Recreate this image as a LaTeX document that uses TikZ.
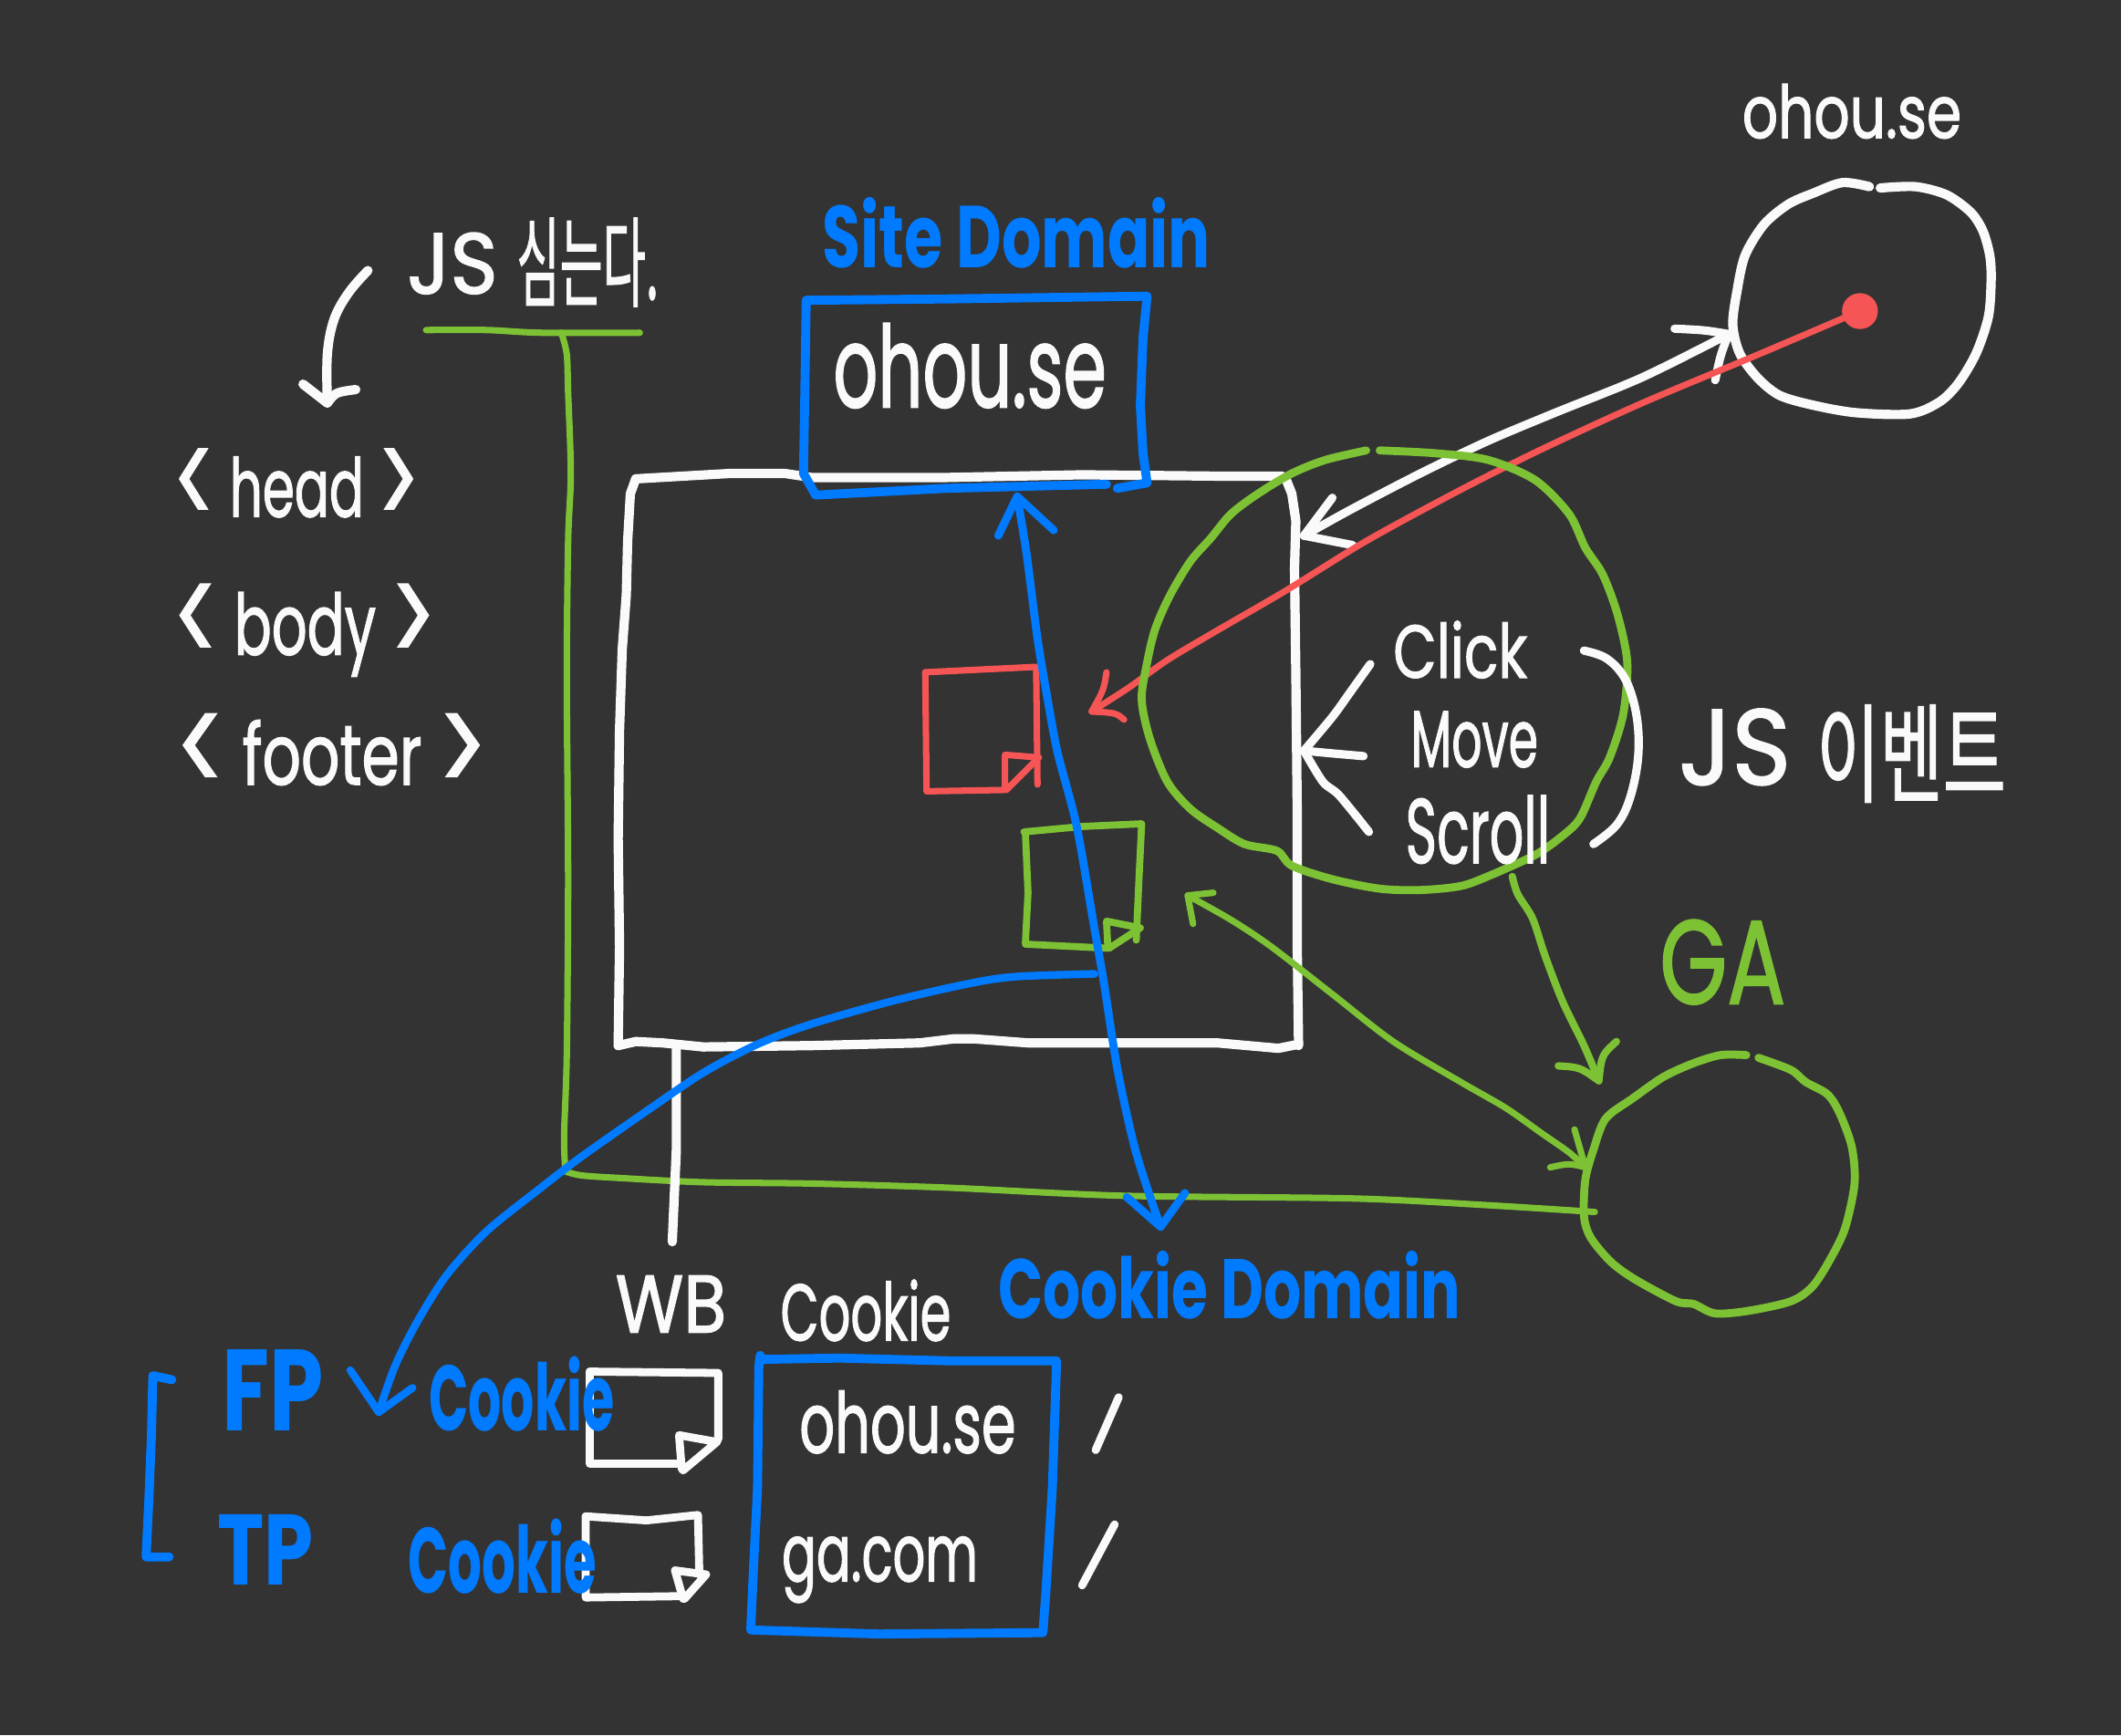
\documentclass[tikz,border=0pt]{standalone}
\usepackage{fontspec}
\usepackage{graphicx}
\newfontfamily\hand{Poppins}[FakeBold=1.6]
\newfontfamily\handb{Poppins}
\newfontfamily\kor{Noto Sans CJK KR}[FakeBold=1.2]
\newlength\pxu
\setlength\pxu{0.14828mm}
\newcommand\sktxt[3]{\resizebox{#1\pxu}{#2\pxu}{#3}}
\newcommand\skl{\raisebox{-0.12em}{\scalebox{1.5}[1.6]{<}}}
\newcommand\skr{\raisebox{-0.12em}{\scalebox{1.5}[1.6]{>}}}
\definecolor{bgc}{RGB}{51,51,51}
\definecolor{penwhite}{RGB}{250,250,250}
\definecolor{penblue}{RGB}{0,122,255}
\definecolor{pengreen}{RGB}{125,194,52}
\definecolor{penred}{RGB}{245,85,85}
\tikzset{
 pen/.style={line cap=round, line join=round},
 wpen/.style={pen, draw=penwhite, line width=2.9pt},
 bpen/.style={pen, draw=penblue, line width=2.8pt},
 gpen/.style={pen, draw=pengreen, line width=2.5pt},
 gthin/.style={pen, draw=pengreen, line width=2pt},
 rpen/.style={pen, draw=penred, line width=2pt},
 lbl/.style={anchor=base west, inner sep=0pt, outer sep=0pt},
 wtxt/.style={lbl, text=penwhite},
 btxt/.style={lbl, text=penblue},
 gtxt/.style={lbl, text=pengreen},
}
\begin{document}
\begin{tikzpicture}[x=0.14828mm, y=-0.14828mm]
\fill[bgc] (0,0) rectangle (1568,1283);
\useasboundingbox (0,0) rectangle (1568,1283);

% ---------- left: JS and html tags ----------
\node[wtxt] (jsA) at (301,217) {\sktxt{67}{45}{\hand JS}};
\node[wtxt] (jsB) at (382,221) {\sktxt{105}{60}{\kor 심는다.}};
\node[wtxt] (head) at (128,382) {\sktxt{182}{50}{\hand\skl\ head \skr}};
\node[wtxt] (body) at (128,484) {\sktxt{194}{52}{\hand\skl\ body \skr}};
\node[wtxt] (footer) at (130,580) {\sktxt{230}{52}{\hand\skl\ footer \skr}};

\coordinate (jsArrS) at (272,200);
\coordinate (jsArrT) at (242,298);
\draw[wpen] plot[smooth, tension=0.6] coordinates {(jsArrS) (258,216) (247,236) (242,262) (jsArrT)};
\draw[wpen] (224,284) -- (jsArrT) .. controls (248,290) .. (263,288);

% green script line
\coordinate (gTop) at (415,246);
\coordinate (gCorner) at (418,866);
\coordinate (gaLeft) at (1179,896);
\draw[gthin] plot[smooth, tension=0.5] coordinates {(315,244) (360,244) (400,246) (473,246)};
\draw[gthin] plot[smooth, tension=0.5] coordinates {(gTop) (419,262) (420,290) (422,350) (420,400) (419,500) (420,650) (419,780) (417,840) (gCorner)};
\draw[gthin] plot[smooth, tension=0.5] coordinates {(gCorner) (430,869) (460,871) (520,874) (600,875) (700,878) (830,884) (1000,886) (1100,891) (gaLeft)};

% ---------- page box ----------
\draw[wpen] (470,354) -- (540,350) -- (580,350) -- (600,353) -- (700,353) -- (800,351) -- (900,352) -- (948,352);
\draw[wpen] (951,355) -- (955,365) -- (958,385) -- (957,420) -- (958,500) -- (959,600) -- (959,700) -- (960,773);
\draw[wpen] (457,773) -- (470,770) -- (490,771) -- (520,774) -- (600,773) -- (680,771) -- (705,768) -- (720,768) -- (760,771) -- (800,771) -- (900,771) -- (945,775) -- (960,772);
\draw[wpen] (470,354) -- (466,365) -- (464,400) -- (463,440) -- (460,480) -- (458,540) -- (457,620) -- (458,700) -- (457,773);
\coordinate (wbTop) at (500,774);
\coordinate (wbBot) at (497,918);
\draw[wpen] (wbTop) -- (500,850) -- (wbBot);

% ---------- site domain ----------
\node[btxt] (siteLbl) at (608,198) {\sktxt{287}{52}{\handb\bfseries Site Domain}};
\draw[bpen] (818,358) -- (700,361) -- (603,366) -- (594,350) -- (595,290) -- (596,222) -- (700,221) -- (848,219) -- (845,250) -- (843,300) -- (845,335) -- (848,357) -- (826,361);
\node[wtxt] (siteTxt) at (616,301) {\sktxt{202}{62}{\hand ohou.se}};

% doc icons
\draw[rpen] (684,497) -- (766,493) -- (767,580);
\draw[rpen] (684,497) -- (685,585) -- (743,584) -- (743,558) -- (768,560) -- (744,584);
\draw[gthin, line width=2.2pt] (757,615) -- (800,611) -- (844,609) -- (842,650) -- (840,695);
\draw[gthin, line width=2.2pt] (758,615) -- (760,660) -- (758,698) -- (819,701) -- (818,681) -- (843,686) -- (820,701);

% blue double arrow site <-> cookie domain
\coordinate (sdBot) at (752,367);
\coordinate (cdTop) at (858,907);
\draw[bpen, line width=2.5pt] plot[smooth, tension=0.5] coordinates {(sdBot) (759,410) (767,472) (775,520) (782,557) (796,611) (809,686) (816,726) (826,790) (838,845) (848,878) (cdTop)};
\draw[bpen, line width=2.5pt] (738,396) -- (sdBot) -- (779,392);
\draw[bpen, line width=2.5pt] (833,885) -- (cdTop) -- (876,882);

% ---------- ohou.se circle ----------
\node[wtxt] (ohTop) at (1288,102) {\sktxt{162}{40}{\hand ohou.se}};
\draw[wpen] plot[smooth, tension=0.5] coordinates {(1390,139) (1416,138) (1439,144) (1457,157) (1466,171) (1471,189) (1472,207) (1470,234) (1461,261) (1448,283) (1434,297) (1412,306) (1371,305) (1338,299) (1315,292) (1299,279) (1286,261) (1281,240) (1284,216) (1290,189) (1304,166) (1322,151) (1340,143) (1362,135) (1382,138)};

% white double arrow page <-> ohou.se
\coordinate (pgR) at (964,396);
\coordinate (ohC) at (1278,247);
\draw[wpen, line width=2.6pt] plot[smooth, tension=0.5] coordinates {(pgR) (1000,376) (1050,350) (1100,326) (1150,305) (1214,279) (ohC)};
\draw[wpen, line width=2.6pt] (1238,243) .. controls (1260,244) .. (ohC) .. controls (1272,262) .. (1268,281);
\draw[wpen, line width=2.6pt] (985,368) -- (pgR) -- (1000,403);

% red line
\coordinate (redDot) at (1375,230);
\coordinate (redTip) at (807,526);
\fill[penred] (redDot) circle[radius=5.6pt];
\draw[rpen] plot[smooth, tension=0.5] coordinates {(redDot) (1300,262) (1214,298) (1140,332) (1080,362) (1010,400) (950,437) (900,466) (863,488) (835,508) (redTip)};
\draw[rpen] (818,497) .. controls (816,510) .. (redTip) .. controls (825,527) .. (831,532);

% ---------- JS event circle ----------
\draw[gpen] plot[smooth, tension=0.5] coordinates {(1020,333) (1060,335) (1100,340) (1135,355) (1160,380) (1172,405) (1185,425) (1196,455) (1203,490) (1200,528) (1190,560) (1180,578) (1168,605) (1155,618) (1135,632) (1102,647) (1080,655) (1050,658) (1020,657) (985,650) (955,640) (944,629) (920,624) (900,612) (880,598) (863,578) (850,546) (844,517) (848,490) (854,465) (865,440) (880,415) (895,398) (910,380) (930,365) (955,350) (980,340) (1010,333)};
\node[wtxt] (click) at (1030,501) {\sktxt{99}{42}{\hand Click}};
\node[wtxt] (move) at (1043,567) {\sktxt{94}{41}{\hand Move}};
\node[wtxt] (scroll) at (1039,638) {\sktxt{107}{50}{\hand Scroll}};
\coordinate (evTip) at (964,555);
\draw[wpen, line width=2.6pt] plot[smooth, tension=0.5] coordinates {(1013,491) (998,512) (985,530) (evTip)};
\draw[wpen, line width=2.6pt] (evTip) .. controls (985,557) .. (1008,559);
\draw[wpen, line width=2.6pt] plot[smooth, tension=0.5] coordinates {(evTip) (978,578) (990,588) (1012,615)};
\draw[wpen, line width=2.6pt] plot[smooth, tension=0.6] coordinates {(1171,481) (1188,487) (1202,503) (1210,530) (1211,560) (1205,590) (1195,610) (1178,624)};
\node[wtxt] (evJS) at (1241,580) {\sktxt{83}{56}{\hand JS}};
\node[wtxt] (evKo) at (1343,587) {\sktxt{140}{66}{\kor 이벤트}};

% ---------- GA ----------
\node[gtxt] (gaLbl) at (1227,742) {\sktxt{93}{62}{\hand GA}};
\draw[gpen] plot[smooth, tension=0.5] coordinates {(1300,782) (1324,791) (1335,800) (1351,809) (1360,823) (1369,848) (1371,875) (1364,908) (1353,931) (1340,951) (1324,962) (1293,969) (1268,971) (1252,964) (1239,962) (1209,946) (1191,933) (1176,915) (1171,899) (1172,872) (1178,850) (1187,827) (1207,812) (1230,796) (1252,786) (1272,780) (1291,780)};

\coordinate (evBot) at (1118,648);
\coordinate (gaTop) at (1182,799);
\draw[gpen, line width=2.3pt] plot[smooth, tension=0.5] coordinates {(evBot) (1122,661) (1133,679) (1142,706) (1155,740) (1171,773) (gaTop)};
\draw[gpen, line width=2.3pt] (1152,788) .. controls (1168,789) .. (gaTop) .. controls (1184,780) .. (1195,770);

\coordinate (gdoc) at (878,662);
\coordinate (gaL) at (1172,863);
\draw[gthin] plot[smooth, tension=0.5] coordinates {(gdoc) (910,680) (940,700) (985,735) (1030,770) (1080,800) (1113,819) (1140,838) (1160,852) (gaL)};
\draw[gthin] (1164,835) -- (gaL) .. controls (1160,860) .. (1146,863);
\draw[gthin] (882,683) -- (gdoc) -- (897,660);

% ---------- bottom: cookies ----------
\coordinate (gdocB) at (809,720);
\coordinate (fpTip) at (280,1044);
\draw[bpen, line width=2.4pt] plot[smooth, tension=0.5] coordinates {(gdocB) (751,722) (717,727) (660,740) (600,757) (560,772) (520,793) (480,820) (430,855) (400,878) (360,910) (330,943) (308,978) (292,1010) (fpTip)};
\draw[bpen, line width=2.4pt] (259,1013) -- (fpTip) -- (305,1026);

\node[wtxt] (wb) at (455,985) {\sktxt{82}{42}{\hand WB}};
\node[wtxt] (cookieW) at (577,991) {\sktxt{126}{45}{\hand Cookie}};
\node[btxt] (cookieDom) at (738,975) {\sktxt{342}{50}{\handb\bfseries Cookie Domain}};

\draw[bpen] (562,1002) -- (561,1010) -- (560,1100) -- (557,1160) -- (555,1205) -- (650,1208) -- (771,1207) -- (773,1180) -- (778,1100) -- (781,1010) -- (781,1006) -- (700,1006) -- (620,1004) -- (562,1005);
\node[wtxt] (ckOhou) at (591,1074) {\sktxt{160}{46}{\hand ohou.se}};
\node[wtxt] (ckGa) at (578,1169) {\sktxt{145}{33}{\hand ga.com}};
\draw[wpen, line width=2.5pt] (827,1033) -- (810,1072);
\draw[wpen, line width=2.5pt] (824,1127) -- (800,1172);

% white doc icons
\draw[wpen, line width=2.5pt] (436,1014) -- (436,1082) -- (504,1082);
\draw[wpen, line width=2.5pt] (436,1014) -- (531,1015) -- (531,1064);
\draw[wpen, line width=2.5pt] (504,1086) -- (502,1061) -- (530,1066) -- (505,1087);
\draw[wpen, line width=2.5pt] (433,1121) -- (433,1181) -- (505,1180);
\draw[wpen, line width=2.5pt] (433,1121) -- (478,1124) -- (516,1120) -- (517,1164);
\draw[wpen, line width=2.5pt] (505,1182) -- (499,1161) -- (522,1164) -- (506,1182);

\node[btxt] (fp) at (164,1058) {\sktxt{75}{60}{\handb\bfseries FP}};
\node[btxt] (tp) at (161,1172) {\sktxt{71}{52}{\handb\bfseries TP}};
\node[btxt] (cookieB1) at (317,1058) {\sktxt{137}{55}{\handb\bfseries Cookie}};
\node[btxt] (cookieB2) at (302,1178) {\sktxt{139}{55}{\handb\bfseries Cookie}};
\draw[bpen] (127,1020) -- (113,1017) -- (112,1060) -- (110,1110) -- (108,1151) -- (125,1151);
\end{tikzpicture}
\end{document}
